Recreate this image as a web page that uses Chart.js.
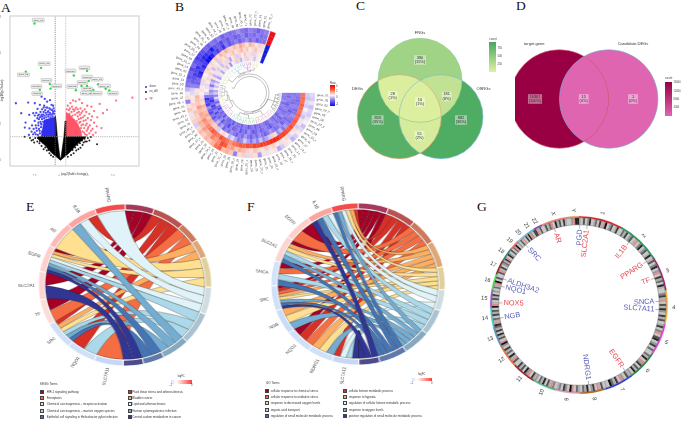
<!DOCTYPE html>
<html>
<head>
<meta charset="utf-8">
<title>Figure</title>
<script src="https://cdn.jsdelivr.net/npm/chart.js@4/dist/chart.umd.min.js"></script>
<style>
html, body { margin: 0; padding: 0; background: #fff; }
#page { position: relative; width: 685px; height: 421px; overflow: hidden; font-family: "Liberation Sans", sans-serif; color: #333; }
#page canvas { position: absolute; }
.t { position: absolute; white-space: nowrap; line-height: 1; }
.letter { font-family: "Liberation Serif", serif; font-size: 13.5px; color: #111; }
.b { position: absolute; }
</style>
</head>
<body>
<div id="page"></div>
<script>
// ---------- A volcano ----------
var xTicksA = [-2.5, 0, 2.5, 5];
var yTicksA = [0, 2, 4, 6, 8];
var volcanoV = [[0.05,0.15],[0.33,1.32],[0.45,2.2],[0.5,2.2],[0.5,1.32],[2.45,1.32],[1.5,0.85],[0.85,0.42],[0,0],[-0.85,0.42],[-1.5,0.85],[-2.15,1.2],[-2.15,1.32],[-0.5,1.32],[-0.5,2.5],[-0.42,2.2],[-0.3,1.32],[-0.05,0.15]];
var downCore = [[-0.5,1.32],[-1.85,1.32],[-1.7,1.8],[-1.55,2.25],[-1,2.35],[-0.5,2.4]];
var upCore = [[0.5,1.32],[2.05,1.32],[1.95,1.65],[1.65,2.05],[1.3,2.3],[0.9,2.55],[0.5,2.7]];
var nsPts = [[-2.4,1.25],[-2.6,1.15],[-2.9,1.25],[-3.4,1.32],[-2.2,1.05],[-2.5,1],[-2,0.95],[-1.8,0.8],[-1.6,0.62],[-1.3,0.55],[-1.05,0.4],[-0.9,0.28],[-2.75,1.1],[-2.15,1.25],[-1.7,1],[2.3,1.2],[2.6,1.25],[2.9,1.3],[2.5,1.05],[2.2,1],[2.1,0.85],[1.9,0.7],[1.7,0.62],[1.5,0.55],[1.25,0.4],[1,0.3],[3.48,0.9],[2.75,1.1],[1.85,0.95],[1.6,0.85],[-1.95,1.08],[-1.45,0.72],[-1.15,0.58],[-0.7,0.2],[0.7,0.2],[1.15,0.58],[1.4,0.72],[2.05,1.1],[2.35,1.05]];
var downPts = [[-4.24,3.19],[-3.73,2.63],[-3.32,2.11],[-3.39,1.83],[-3.07,3.23],[-2.44,3.19],[-2.97,2.54],[-2.59,2.63],[-2.44,2.5],[-2.18,2.87],[-1.96,3.1],[-1.8,3.56],[-1.49,3.43],[-1.27,3.28],[-1,3.36],[-0.85,3.1],[-0.7,3.05],[-1.05,2.9],[-1.35,2.95],[-1.55,3.05],[-1.75,2.85],[-1.9,2.7],[-2.05,2.55],[-1.95,2.4],[-2.2,2.35],[-2.45,2.2],[-2.7,1.95],[-2.95,1.78],[-2.35,1.95],[-2.1,2.1],[-1.8,2.55],[-1.6,2.7],[-1.4,2.65],[-1.2,2.7],[-1,2.65],[-0.8,2.8],[-0.6,2.6],[-0.55,2.35],[-0.75,2.45],[-0.95,2.4],[-1.15,2.45],[-1.35,2.4],[-1.55,2.35],[-1.75,2.3],[-1.9,2.15],[-1.8,2],[-1.65,2.15],[-1.45,2.2],[-1.25,2.25],[-1.05,2.2],[-0.85,2.2],[-0.65,2.2],[-2.25,1.65],[-2.45,1.55],[-2.05,1.75],[-1.85,1.85],[-1.95,1.5],[-2.15,1.42],[-1.75,1.6],[-2.6,1.45],[-3,1.42],[-1.3,2.55],[-1.5,2.5],[-1.7,2.45],[-0.9,2.55],[-0.7,2.7],[-1.1,2.55],[-0.65,2.9],[-1.6,2.95],[-2.3,2.65],[-2.05,2.3],[-1.85,2.45],[-2.15,2.5],[-1.65,2.55],[-1.45,2.8],[-1.25,2.95],[-0.95,2.85],[-0.75,2.6],[-0.58,2.75],[-1.15,2.75],[-1.85,2.05],[-2.3,1.8],[-2.1,1.95],[-1.98,1.65],[-2.55,1.75],[-2.35,1.45],[-2.75,1.6]];
var upPts = [[6.84,3.5],[5.3,3.34],[4.43,2.82],[3.73,3.15],[4.05,2.63],[2.94,3],[3.5,2.4],[3.2,2.75],[2.75,2.6],[2.55,3.05],[2.3,2.85],[2.05,3.2],[1.8,3.4],[1.45,3.3],[1.2,3.35],[0.95,3.2],[0.7,3.05],[0.6,2.85],[0.9,2.9],[1.2,2.85],[1.5,2.95],[1.75,2.7],[2,2.65],[2.3,2.5],[2.6,2.35],[2.9,2.25],[3.2,2.1],[3.45,1.9],[3.05,1.75],[2.8,1.95],[2.5,2.05],[2.2,2.2],[1.95,2.35],[1.65,2.45],[1.4,2.55],[1.15,2.5],[0.85,2.6],[0.65,2.55],[1.25,2.25],[1.55,2.2],[1.8,2.1],[2,1.95],[2.25,1.8],[2.5,1.65],[2.75,1.5],[3.1,1.42],[2.35,1.45],[2.1,1.6],[1.95,1.8],[2.65,1.85],[3.35,1.55],[3.9,1.8],[1.3,2.75],[1.05,2.7],[1.6,2.65],[0.75,2.4],[1.9,2.9],[2.45,2.7],[3,2.45],[1.1,3],[1.85,2.55],[2.15,2.4],[2.1,2.75],[2.4,2.25],[2.15,2],[2.4,1.95],[2.6,1.75],[2.25,1.55],[2.5,1.42],[2.9,1.65],[1.4,2.85],[0.8,2.8],[1.65,2.85],[1.75,2.3],[1.9,2.15]];
var greenPts = [[-2.47,7.65],[-1.84,5.17],[-3.29,4.96],[-1.01,4.27],[-1.96,3.94],[-0.95,4.01],[2.53,5],[1.27,4.74],[2.69,4.44],[2,4.16],[2.53,4.16],[1.46,3.92],[2.85,3.94],[3.13,3.94],[3.58,4.25],[4.3,4],[4.65,3.9],[-2.15,3.75]];
var greenLabelPts = [[-2.11,7.84],[-1.54,5.4],[-3.52,4.78],[-1.33,4.47],[-2.28,4.12],[-0.38,4.16],[2.28,5.17],[0.95,5],[2.53,4.66],[2.09,4.35],[2.53,4],[1.11,4.12],[2.47,3.75],[3.47,3.75],[3.48,4.53],[4.18,4.16],[5,3.75],[-2.22,3.73]];
var greenLabels = ['gene_01','gene_02','gene_03','gene04','gene05','gene06','gene07','gene08','gene09','gene10','gene11','gene12','gene_13','gene14','gene_15','gene_16','gene17','gene18'];

// ---------- B circular heatmap ----------
var ring0 = [-.2,-.3,-.1,-.4,-.2,-.3,-.1,0,-.4,-.2,.1,-.3,-.5,.1,.2,-.3,-.6,.2,.1, -.1,.2,-.7,.3,.4,-.2,.5,.3,-.9,.6,1,.8,1.8,1.6,1,.7,.9,.5,.8, .4,-.3,.5,.3,-.1,.6,.2,-.9,.3,.1,-.5,-1,-1.1,-1.3,-1.2,-1.4,-1.1,-1.3,-1.5, -1.4,-1.3,-1.1,-1.2,-1,-1.1,-.9,-1.2,-1,-1.1,-1,-.8,-1,-1.1,-.9,-1,-1.2,-1,-.9];
var ring1 = [-.3,-.4,-.2,-.3,0,-.2,-.4,-.1,.2,-.3,.3,.1,-.2,.4,.2,.3,.1,.5,.3, .6,.2,.4,.7,.3,.5,.8,1,.6,1.2,1.1,1.9,2.1,1.4,1.2,1.5,1,.9,1.2, .8,1,.6,.5,.7,.3,.5,.2,.1,-.2,-.3,-.9,-1.2,-1.3,-1.5,-1.4,-1.6,-1.3,-1.5, -1.7,-1.6,-1.4,-1.8,-1.3,-1.2,-1.4,-1.1,-1.3,-1,-1.2,-1.1,-.9,-1.2,-1,-1.1,-.9,-1.1,-1];
var ring2 = [1.6,1.7,1.6,1.8,1.7,1.6,1.8,1.7,1.9,1.8,2,1.9,2.1,2.3,2.2,2.6,2.8,2.6,2.4, 2.2,2.3,2.1,2.2,1.9,2,1.8,1.9,1.7,1.6,1.3,1.6,1.8,2,1.5,1.7,1.9,1.6,1.4, 1.2,1.4,1,1.1,.8,1.2,.6,.7,.9,.3,.2,-.9,-1.2,-1.1,-1.6,-1.8,-1.4,-1.7,-1.5, -1.9,-2,-1.8,-1.3,-1.5,-1.2,-1.6,-1,-1.3,-1.1,-.9,-1.2,-1,-.8,-1.1,-.9,-1.2,-1,-1];
var ring3 = [-.9,-1,-1.1,-1,-.9,-1.1,-1,-.8,-1,-1.1,-.9,-.7,-1,-.5,-.8,.3,.5,-.3,-.6, -.8,-.4,-.9,-.6,-1,-.7,-.3,-.8,-1,-.6,-.2,-.5,.1,.4,.2,-.3,.6,.5,.8, 1,.7,1.1,.8,.6,.9,.3,.5,.2,0,.3,.1,-.2,.4,.2,0,.3,.5,.2, .4,.2,.7,.3,.9,.5,1,.6,.4,.8,.5,1.1,.7,.3,.9,.6,.2,.5,.3];
var ring4 = [-1,-.9,-1,-1.1,-.9,-1,-1.2,-1,-.9,-1.1,-1,-1.2,-.8,-1,-1.1,-.9,-.7,-1,-1.2, -1,-.8,-1.1,-.9,-1.2,-1,-.7,-1.1,-.9,-1.2,-1,-.8,-1.1,-.9,-1.2,-.6,-1,-.5,-.9, -1.3,-1,-1.4,-1.2,-.8,-1.5,-1.3,-1.6,-1,-.3,0,.3,-.2,.1,.4,-.1,.5,.2,-.4, .3,.1,-.3,.5,.2,.6,-.1,.4,.7,.2,.5,.8,.3,.6,.1,.4,.7,.2,.3];
var ring5 = [-1,-1.1,-.9,-1,-1.2,-1,-.9,-1.1,-1,-.8,-1.2,-1,-1.1,-.9,-1,-1.3,-1.1,-.9,-1, -1.2,-.9,-1.1,-1.3,-1,-.8,-1.2,-1,-1.3,-.9,-1.1,-1.2,-.9,-1.4,-1.1,-1,-1.3,-.8,-1.2, -1,-1.4,-.9,-1.3,-1.5,-1.1,-1.6,-1.3,-1,-.6,-.8,-.3,-1,-.4,-.7,.2,-.5,-.1,.3, -.3,.2,-.4,.3,-.2,.4,-.6,.1,.5,-.3,.4,.1,.6,-.1,.3,.5,-.2,.2,0];
var ring6 = [-.9,-1,-1,-.8,-1.1,-.9,-1,-1.1,-.9,-1,-1.2,-.9,-1.1,-1,-.8,-1.1,-1.2,-1,-.9, -1.1,-1,-1.2,-.9,-1.1,-1.3,-1,-.9,-1.2,-1,-1.1,-.9,-1.3,-1,-1.2,-1.1,-.8,-1.3,-1, -1.2,-.9,-1.4,-1.1,-.6,-1.2,-.7,-.2,-.9,-.3,-.6,.1,-.4,.2,-.5,0,-.7,-.2,.1, -.6,-.1,.3,-.4,.2,-.8,0,.3,-.3,.4,-.5,.1,-.2,.5,-.1,.2,-.4,.1,0];
var heatRings = [ring0, ring1, ring2, ring3, ring4, ring5, ring6];
var groupColors = ['#e8141c', '#e8141c', '#e8141c', '#1020d8', '#1020d8', '#1020d8', '#1020d8'];
var heatStops = [[-2,[8,8,235]],[-1,[135,118,235]],[-0.3,[212,204,248]],[0,[248,240,244]],[1,[251,175,152]],[2,[246,80,52]],[3,[240,26,16]],[4,[224,0,0]]];
// clusters of the dendrogram: first gene, last gene, colour
var treeClusters = [[0,9,'#444444'],[10,20,'#d98ca0'],[21,27,'#8ccf8c'],[28,33,'#66c2b0'],[34,40,'#c080c0'],[41,44,'#e6d36a'],[45,51,'#888888'],[52,59,'#b5d98a'],[60,66,'#7fcfd0'],[67,71,'#b070c0'],[72,75,'#e0d060']];
// node a, node b, radius of the join
var treeMerges = [[9,10,23],[8,11,21.5],[7,12,20.5],[5,6,23],[4,14,21.5],[13,15,19],[2,3,22],[1,17,20.5],[0,18,18.5],[16,19,16.5]];

// ---------- C and D venn ----------
var cNames = ['FRGs', 'DEGs', 'OSRGs'];
var cCx = [75, 54.3, 96];
var cCy = [55.3, 91.7, 91.7];
var cCounts = [380, 833, 882, 28, 181, 55, 16];
var cPercents = ['15%', '35%', '36%', '1%', '8%', '2%', '1%'];
var cLabelX = [75, 32.7, 116, 47.7, 101.7, 74.5, 75];
var cLabelY = [35, 95, 95, 70.7, 71.5, 110.7, 77];
var dNames = ['target.gene', 'Candidate.DEGs'];
var dCx = [44.3, 93.7];
var dCy = [64, 64];
var dCounts = [16361, 15, 1];
var dPercents = ['100%', '0%', '0%'];
var dLabelX = [20, 68.7, 118];
var dLabelY = [64, 64, 64];

// ---------- E and F chord ----------
var termColors = ['#a50026','#d73027','#f46d43','#fdae61','#fee090','#e0f3f8','#abd9e9','#74add1','#4575b4','#313695'];
var termArcColors = ['#a33a5a','#b9534f','#cc7a5c','#dfa777','#e0d09c','#cfdce0','#a9c3d2','#86a9c0','#5f79a9','#4d4b8c'];
var eTerms = ['HIF-1 signaling pathway','Fluid shear stress and atherosclerosis','Ferroptosis','Bladder cancer','Chemical carcinogenesis - receptor activation','Lipid and atherosclerosis','Chemical carcinogenesis - reactive oxygen species','Human cytomegalovirus infection','Epithelial cell signaling in Helicobacter pylori infection','Central carbon metabolism in cancer'];
var eTermSizes = [19.6,21.4,14.5,13.3,21.7,19.5,22.7,18.7,14.1,13.5];
var eGenes = ['SLC7A11','NQO1','SRC','TF','SLC2A1','EGFR','AR','IL1B','PPARG'];
var eGeneSizes = [19.4,19.8,19.7,18.3,20,19.5,19,20.6,20.2];
var eGeneColors = ['#c6d8f6','#cfe0f8','#cfe0f8','#fbdcd8','#fcd5d2','#fdd0cc','#fdb9b5','#fba4a0','#f44b4b'];
var eLinks = [['EGFR',0],['SLC2A1',0],['TF',0],['IL1B',1],['SRC',1],['NQO1',1],['TF',2],['SLC7A11',2],['EGFR',3],['SRC',3],['AR',4],['EGFR',4],['SRC',4],['PPARG',5],['IL1B',5],['EGFR',5],['NQO1',6],['SRC',6],['EGFR',6],['IL1B',7],['EGFR',7],['SRC',7],['EGFR',8],['SRC',8],['SLC2A1',9],['EGFR',9]];
var fTerms = ['cellular response to chemical stress','cellular ketone metabolic process','cellular response to oxidative stress','response to hypoxia','response to decreased oxygen levels','regulation of cellular ketone metabolic process','organic acid transport','response to oxygen levels','regulation of small molecule metabolic process','positive regulation of small molecule metabolic process'];
var fTermSizes = [20.4,19.6,18.4,19,16.6,15,18.5,18.5,19,14];
var fGenes = ['SLC7A11','NDRG1','NQO1','NGB','SRC','SNCA','SLC2A1','EGFR','IL1B','PPARG'];
var fGeneSizes = [18,17,18,18,18,18,19,19,17,18];
var fGeneColors = ['#c6d8f6','#cfe0f8','#cfe0f8','#c9dcf8','#cfe0f8','#d3e3f9','#fcd5d2','#fdd0cc','#fba4a0','#f44b4b'];
var fLinks = [['NQO1',0],['SRC',0],['SNCA',0],['SLC2A1',0],['EGFR',0],['SLC7A11',1],['NQO1',1],['SRC',1],['PPARG',1],['NQO1',2],['SRC',2],['SNCA',2],['EGFR',2],['NDRG1',3],['NGB',3],['SRC',3],['SLC2A1',3],['PPARG',3],['NDRG1',4],['NGB',4],['SRC',4],['SLC2A1',4],['PPARG',4],['SLC7A11',5],['IL1B',5],['PPARG',5],['SLC7A11',6],['SNCA',6],['SLC2A1',6],['IL1B',6],['NDRG1',7],['NGB',7],['SRC',7],['SLC2A1',7],['PPARG',7],['SNCA',8],['SRC',8],['SLC2A1',8],['IL1B',8],['PPARG',8],['SLC7A11',9],['SRC',9],['IL1B',9]];

// ---------- G circos ----------
var chrNames = ['1','2','3','4','5','6','7','8','9','10','11','12','13','14','15','16','17','18','19','20','21','22','X','Y'];
var chrSizes = [248,242,198,190,181,170,159,145,138,133,135,133,114,107,101,90,83,80,58,64,46,50,156,57];
var chrColors = ['#e01b24','#1f9e55','#8e2a6e','#f5b435','#e93ae0','#1d8a3a','#2230e0','#b5651d','#e8a0c8','#4cc38a','#a01c28','#f0703c','#5a8fc8','#40d8c8','#a24ce0','#4ce04c','#8e1c1c','#1f8a80','#f07060','#7ec8e8','#40c8d8','#8a3cc0','#f08878','#d89a50'];
var chrBands = [
 [2,1,6,1,3,8,1,2,5,1,7,2,-1,9,1,3,6,1,2,7,1],[1,5,2,7,1,3,6,1,2,-1,1,4,8,1,3,6,1,2,8,1],[2,6,1,4,8,1,3,-1,1,7,2,5,1,8,2,1],[1,4,7,2,-1,1,6,2,8,3,1,7,2,6,1],[2,7,1,4,-1,1,6,8,1,3,7,1,5,1],
 [1,5,2,8,1,-1,3,7,1,6,2,8,1,3],[2,6,1,3,-1,1,7,2,5,9,1,2],[1,6,2,-1,1,7,3,1,8,2,5,1],[2,5,1,-1,9,1,3,7,1,4,2],[1,4,-1,2,6,1,8,2,5,1,3],[2,7,1,-1,3,8,1,6,2,7,1],
 [1,6,-1,2,8,1,5,2,7,1,3],[9,-1,1,6,2,8,1,7,2,5],[8,-1,2,5,1,7,2,6,1],[9,-1,2,1,6,2,7,1,3],[1,5,2,-1,9,1,6,1],[1,6,-1,2,7,1,3,5],[2,7,-1,1,8,3,1,6],[1,5,-1,9,1,3],[1,6,2,-1,1,7,2],[8,-1,3,1,7],[7,-1,2,6,1],
 [1,6,2,5,-1,1,8,2,6,1,7,2,1],[1,3,-1,8,8]
];
var gGenes = ['PGD','SLC2A1','AR','IL1B','PPARG','TF','SNCA','SLC7A11','EGFR','NDRG1','NGB','NOX5','NQO1','ALDH3A2','SRC'];
var gAngles = [0.5,5.8,342.2,38.5,57.3,70.5,87.4,93.3,145,173,260.6,271.5,283.5,289,318.4];
var gColors = ['#5a5fb5','#e8474f','#e8474f','#e8474f','#e8474f','#e8474f','#5a5fb5','#5a5fb5','#e8474f','#5a5fb5','#5a5fb5','#e8474f','#5a5fb5','#5a5fb5','#5a5fb5'];

// ---------- helpers ----------
Chart.defaults.animation = false;
Chart.defaults.responsive = false;
Chart.defaults.events = [];
Chart.defaults.layout.autoPadding = false;
Chart.defaults.plugins.legend.display = false;
Chart.defaults.plugins.tooltip.enabled = false;
Chart.defaults.font.family = '"Liberation Sans", sans-serif';

var page = document.getElementById('page');

function addCanvas(left, top, w, h, scaleX) {
    var holder = document.createElement('div');
    holder.style.cssText = 'position:absolute;left:' + left + 'px;top:' + top + 'px;width:' + w + 'px;height:' + h + 'px;';
    if (scaleX) holder.style.transform = 'scaleX(' + scaleX + ')';
    var c = document.createElement('canvas');
    c.width = w;
    c.height = h;
    holder.appendChild(c);
    page.appendChild(holder);
    return c;
}

// anchor: 0 left, 0.5 centre, 1 right
function put(x, y, str, size, color, anchor, cls) {
    var d = document.createElement('div');
    d.className = 't ' + (cls || '');
    d.textContent = str;
    d.style.left = x + 'px';
    d.style.top = y + 'px';
    if (size) d.style.fontSize = size + 'px';
    if (color) d.style.color = color;
    d.style.transform = 'translate(' + (-(anchor || 0) * 100) + '%,-50%)';
    page.appendChild(d);
}

function block(x, y, w, h, css) {
    var d = document.createElement('div');
    d.className = 'b';
    d.style.cssText = 'left:' + x + 'px;top:' + y + 'px;width:' + w + 'px;height:' + h + 'px;' + css;
    page.appendChild(d);
}

function mix(a, b, f) {
    return 'rgb(' + Math.round(a[0] + (b[0] - a[0]) * f) + ',' + Math.round(a[1] + (b[1] - a[1]) * f) + ',' + Math.round(a[2] + (b[2] - a[2]) * f) + ')';
}

function heatColor(v) {
    for (var i = 1; i < heatStops.length; i++) {
        if (v <= heatStops[i][0]) {
            var lo = heatStops[i - 1], hi = heatStops[i];
            return mix(lo[1], hi[1], Math.max(0, (v - lo[0]) / (hi[0] - lo[0])));
        }
    }
    return 'rgb(224,0,0)';
}

// text along a radius, readable on both halves, starting or ending at r
function radialText(ctx, cx, cy, r, angle, text, inward) {
    var left = Math.cos(angle) < 0;
    ctx.save();
    ctx.translate(cx + r * Math.cos(angle), cy + r * Math.sin(angle));
    ctx.rotate(left ? angle + Math.PI : angle);
    ctx.textBaseline = 'middle';
    ctx.textAlign = inward ? (left ? 'left' : 'right') : (left ? 'right' : 'left');
    ctx.fillText(text, 0, 0);
    ctx.restore();
}

['A', 'B', 'C', 'D', 'E', 'F', 'G'].forEach(function (l, i) {
    var xs = [1, 175, 356, 516, 26, 247, 477];
    var ys = [8, 7, 6, 6, 207, 207, 207];
    put(xs[i], ys[i], l, 0, 0, 0, 'letter');
});

// ---------- panel A ----------
function toXY(p) { return { x: p[0], y: p[1] }; }

var volcanoDecor = {
    id: 'volcanoDecor',
    afterDatasetsDraw: function (chart) {
        var ctx = chart.ctx, a = chart.chartArea, sx = chart.scales.x, sy = chart.scales.y;
        ctx.save();
        ctx.strokeStyle = '#d4d4d4';
        ctx.lineWidth = 1.2;
        ctx.strokeRect(a.left, a.top, a.right - a.left, a.bottom - a.top);
        ctx.font = '2.4px "Liberation Sans"';
        ctx.textAlign = 'center';
        ctx.textBaseline = 'middle';
        greenLabelPts.forEach(function (p, i) {
            var x = sx.getPixelForValue(p[0]), y = sy.getPixelForValue(p[1]);
            var w = ctx.measureText(greenLabels[i]).width + 2.6;
            ctx.fillStyle = 'rgba(236,236,236,0.95)';
            ctx.strokeStyle = '#999';
            ctx.lineWidth = 0.4;
            ctx.beginPath();
            ctx.roundRect(x - w / 2, y - 1.8, w, 3.6, 0.6);
            ctx.fill();
            ctx.stroke();
            ctx.fillStyle = '#444';
            ctx.fillText(greenLabels[i], x, y);
        });
        ctx.restore();
    }
};

new Chart(addCanvas(0, 0, 175, 176), {
    type: 'scatter',
    data: {
        datasets: [
            { data: [[-0.5, -1], [-0.5, 9]].map(toXY), showLine: true, borderColor: '#666', borderWidth: 0.7, borderDash: [1.2, 1], pointRadius: 0 },
            { data: [[0.5, -1], [0.5, 9]].map(toXY), showLine: true, borderColor: '#aaa', borderWidth: 0.7, borderDash: [1.2, 1], pointRadius: 0 },
            { data: [[-9, 1.32], [9, 1.32]].map(toXY), showLine: true, borderColor: '#999', borderWidth: 0.7, borderDash: [1.2, 1], pointRadius: 0 },
            { data: volcanoV.map(toXY), showLine: true, fill: 'shape', backgroundColor: '#000', borderColor: '#000', borderWidth: 0.6, pointRadius: 0 },
            { data: downCore.map(toXY), showLine: true, fill: 'shape', backgroundColor: '#2f2ff0', borderColor: '#2f2ff0', borderWidth: 0.4, pointRadius: 0 },
            { data: upCore.map(toXY), showLine: true, fill: 'shape', backgroundColor: '#ff5567', borderColor: '#ff5567', borderWidth: 0.4, pointRadius: 0 },
            { data: nsPts.map(toXY), pointRadius: 1, pointBackgroundColor: '#222', pointBorderWidth: 0 },
            { data: downPts.map(toXY), pointRadius: 1.15, pointBackgroundColor: '#4a4af0', pointBorderWidth: 0 },
            { data: upPts.map(toXY), pointRadius: 1.15, pointBackgroundColor: '#ff7080', pointBorderWidth: 0 },
            { data: greenPts.map(toXY), pointRadius: 1.2, pointBackgroundColor: '#22e040', pointBorderWidth: 0 }
        ]
    },
    options: {
        layout: { padding: { top: 16, right: 36, left: 0, bottom: 0 } },
        scales: {
            x: {
                min: -4.8, max: 7.47,
                afterFit: function (s) { s.height = 10; },
                afterBuildTicks: function (s) { s.ticks = xTicksA.map(function (v) { return { value: v }; }); },
                grid: { display: false },
                border: { display: false },
                ticks: { font: { size: 2.8 }, color: '#777', maxRotation: 0, autoSkip: false, padding: 1, callback: function (v) { return v.toFixed(1); } },
                title: { display: true, text: 'log2(fold change)', font: { size: 3.4 }, color: '#444', padding: { top: 1, bottom: 0 } }
            },
            y: {
                min: -0.32, max: 8.07,
                afterFit: function (s) { s.width = 10; },
                afterBuildTicks: function (s) { s.ticks = yTicksA.map(function (v) { return { value: v }; }); },
                grid: { display: false },
                border: { display: false },
                ticks: { font: { size: 2.8 }, color: '#777', autoSkip: false, padding: 1 },
                title: { display: true, text: '-log10(p-value)', font: { size: 3.4 }, color: '#444', padding: 0 }
            }
        }
    },
    plugins: [volcanoDecor]
});
[['down', '#3a3af0', 87], ['no_diff', '#222', 92.3], ['up', '#ff6070', 98.7]].forEach(function (r) {
    block(145, r[2] - 0.9, 1.8, 1.8, 'background:' + r[1] + ';border-radius:50%;');
    put(149.5, r[2], r[0], 2.7, '#444');
});

// ---------- panel B ----------
var heatCount = ring0.length;
var spacerWeight = 0.3, annotWeight = 1.27, gapWeight = 17.64;
var heatWeights = ring0.map(function () { return 1; }).concat([spacerWeight, annotWeight, gapWeight]);
var heatDatasets = heatRings.map(function (ring, r) {
    var colors = ring.map(heatColor).concat(['rgba(0,0,0,0)', groupColors[r], 'rgba(0,0,0,0)']);
    return { data: heatWeights, backgroundColor: colors, borderColor: colors, borderWidth: 0.3 };
});

var heatDecor = {
    id: 'heatDecor',
    afterDatasetsDraw: function (chart) {
        var ctx = chart.ctx;
        var arcs = chart.getDatasetMeta(0).data;
        var cx = arcs[0].x, cy = arcs[0].y;
        function mid(i) { return (arcs[i].startAngle + arcs[i].endAngle) / 2; }
        ctx.save();
        // gene names
        ctx.font = '3px "Liberation Sans"';
        ctx.fillStyle = '#444';
        for (var i = 0; i < heatCount; i++) {
            var n = 'gene_' + (i < 9 ? '0' : '') + (i + 1) + (i % 3 === 0 ? '_x' : '');
            radialText(ctx, cx, cy, 67, mid(i), n);
        }
        // dendrogram
        ctx.lineWidth = 0.35;
        var nodes = treeClusters.map(function (c) {
            ctx.strokeStyle = c[2];
            var pairs = [];
            for (var j = c[0]; j <= c[1]; j += 2) {
                var a0 = mid(j), a1 = mid(Math.min(j + 1, c[1]));
                ctx.beginPath();
                ctx.moveTo(cx + 31 * Math.cos(a0), cy + 31 * Math.sin(a0));
                ctx.lineTo(cx + 28 * Math.cos(a0), cy + 28 * Math.sin(a0));
                ctx.arc(cx, cy, 28, a0, a1);
                ctx.lineTo(cx + 31 * Math.cos(a1), cy + 31 * Math.sin(a1));
                ctx.stroke();
                var am = (a0 + a1) / 2;
                pairs.push(am);
                ctx.beginPath();
                ctx.moveTo(cx + 28 * Math.cos(am), cy + 28 * Math.sin(am));
                ctx.lineTo(cx + 25.5 * Math.cos(am), cy + 25.5 * Math.sin(am));
                ctx.stroke();
            }
            ctx.beginPath();
            ctx.arc(cx, cy, 25.5, pairs[0], pairs[pairs.length - 1]);
            ctx.stroke();
            return { angle: (pairs[0] + pairs[pairs.length - 1]) / 2, r: 25.5 };
        });
        ctx.strokeStyle = '#666';
        ctx.lineWidth = 0.4;
        treeMerges.forEach(function (m) {
            var a = nodes[m[0]], b = nodes[m[1]], r = m[2];
            ctx.beginPath();
            ctx.moveTo(cx + a.r * Math.cos(a.angle), cy + a.r * Math.sin(a.angle));
            ctx.lineTo(cx + r * Math.cos(a.angle), cy + r * Math.sin(a.angle));
            ctx.arc(cx, cy, r, a.angle, b.angle);
            ctx.lineTo(cx + b.r * Math.cos(b.angle), cy + b.r * Math.sin(b.angle));
            ctx.stroke();
            nodes.push({ angle: (a.angle + b.angle) / 2, r: r });
        });
        ctx.restore();
    }
};

new Chart(addCanvas(155, -2, 190, 190), {
    type: 'doughnut',
    data: { datasets: heatDatasets },
    options: { rotation: 90, radius: 65, cutout: '49.2%', layout: { padding: 0 } },
    plugins: [heatDecor]
});
put(330, 82.5, 'Row', 2.8, '#333');
block(330, 85, 4.6, 21, 'background:linear-gradient(to bottom,#e80000,#f6563a 22%,#fbb5a0 36%,#f8f2f6 50%,#8776eb 72%,#0808eb);');
[['4', 86.5], ['2', 92], ['0', 98], ['-2', 104.5]].forEach(function (r) { put(336, r[1], r[0], 2.6, '#444'); });

// ---------- panels C and D ----------
function rampColor(v, maxV, lo, hi) { return mix(lo, hi, Math.min(1, v / maxV)); }

function vennPlugin(cfg) {
    return {
        id: 'venn',
        afterDatasetsDraw: function (chart) {
            var ctx = chart.ctx;
            var circ = chart.data.datasets.map(function (d, i) {
                var el = chart.getDatasetMeta(i).data[0];
                return { x: el.x, y: el.y, r: d.data[0].r };
            });
            ctx.save();
            cfg.overlaps.forEach(function (o) {
                ctx.save();
                o.inside.forEach(function (k) {
                    ctx.beginPath();
                    ctx.arc(circ[k].x, circ[k].y, circ[k].r, 0, Math.PI * 2);
                    ctx.clip();
                });
                ctx.fillStyle = o.color;
                ctx.fillRect(0, 0, chart.width, chart.height);
                ctx.restore();
            });
            circ.forEach(function (c, i) {
                ctx.strokeStyle = cfg.outline[i];
                ctx.lineWidth = 0.6;
                ctx.beginPath();
                ctx.arc(c.x, c.y, c.r, 0, Math.PI * 2);
                ctx.stroke();
            });
            ctx.font = '3.9px "Liberation Sans"';
            ctx.textAlign = 'center';
            ctx.textBaseline = 'middle';
            cfg.counts.forEach(function (n, i) {
                var x = chart.scales.x.getPixelForValue(cfg.lx[i]);
                var y = chart.scales.y.getPixelForValue(cfg.ly[i]);
                var top = String(n), bot = '(' + cfg.pct[i] + ')';
                var w = Math.max(ctx.measureText(top).width, ctx.measureText(bot).width) + 1.6;
                ctx.fillStyle = 'rgba(255,255,255,0.42)';
                ctx.fillRect(x - w / 2, y - 4.8, w, 9.6);
                ctx.fillStyle = '#333';
                ctx.fillText(top, x, y - 2.1);
                ctx.fillText(bot, x, y + 2.3);
            });
            ctx.restore();
        }
    };
}

function vennOptions(w, h) {
    return {
        layout: { padding: 0 },
        clip: false,
        scales: {
            x: { display: false, min: 0, max: w },
            y: { display: false, min: 0, max: h, reverse: true }
        }
    };
}

var cLow = [223, 240, 160], cHigh = [71, 168, 95];
function cColor(v) { return rampColor(v, 933, cLow, cHigh); }
var cRadius = 42;
new Chart(addCanvas(345, 25, 150, 140), {
    type: 'bubble',
    data: {
        datasets: [
            { data: [{ x: cCx[0], y: cCy[0], r: cRadius }], backgroundColor: cColor(cCounts[0]), borderWidth: 0 },
            { data: [{ x: cCx[1], y: cCy[1], r: cRadius }], backgroundColor: cColor(cCounts[1]), borderWidth: 0 },
            { data: [{ x: cCx[2], y: cCy[2], r: cRadius }], backgroundColor: cColor(cCounts[2]), borderWidth: 0 }
        ]
    },
    options: vennOptions(150, 140),
    plugins: [vennPlugin({
        overlaps: [
            { inside: [0, 1], color: cColor(cCounts[3]) },
            { inside: [0, 2], color: cColor(cCounts[4]) },
            { inside: [1, 2], color: cColor(cCounts[5]) },
            { inside: [0, 1, 2], color: cColor(cCounts[6]) }
        ],
        outline: ['#84c98b', '#e0a070', '#78b8d8'],
        counts: cCounts, pct: cPercents, lx: cLabelX, ly: cLabelY
    })]
});
put(420, 33, cNames[0], 4.1, '#333', 0.5);
put(357.5, 89, cNames[1], 4.1, '#333', 0.5);
put(483.5, 89, cNames[2], 4.1, '#333', 0.5);
put(489.3, 38.5, 'count', 3, '#444');
block(489.3, 42, 6.6, 30, 'background:linear-gradient(to bottom,#47a85f,#e0f0a0);');
[['750', 47.7], ['500', 56], ['250', 64.3]].forEach(function (r) { put(497.5, r[1], r[0], 2.8, '#444'); });

var dLow = [223, 101, 176], dHigh = [152, 0, 67];
function dColor(v) { return rampColor(v, 16361, dLow, dHigh); }
new Chart(addCanvas(515, 35, 150, 128), {
    type: 'bubble',
    data: {
        datasets: [
            { data: [{ x: dCx[0], y: dCy[0], r: 49.3 }], backgroundColor: dColor(dCounts[0]), borderWidth: 0 },
            { data: [{ x: dCx[1], y: dCy[1], r: 49.3 }], backgroundColor: dColor(dCounts[2]), borderWidth: 0 }
        ]
    },
    options: vennOptions(150, 128),
    plugins: [vennPlugin({
        overlaps: [{ inside: [0, 1], color: dColor(dCounts[1]) }],
        outline: ['#d86a70', '#6fb3d6'],
        counts: dCounts, pct: dPercents, lx: dLabelX, ly: dLabelY
    })]
});
put(534.3, 44, dNames[0], 4.1, '#333', 0.5);
put(633, 44, dNames[1], 4.1, '#333', 0.5);
put(665, 78, 'count', 3, '#444');
block(665, 82, 7, 34, 'background:linear-gradient(to bottom,#980043,#df65b0);');
[['16000', 83.3], ['12000', 91.7], ['8000', 100], ['4000', 108]].forEach(function (r) { put(673.5, r[1], r[0], 2.6, '#444'); });

// ---------- panels E and F ----------
function chordPlugin(termCount, genes, links, labelR) {
    return {
        id: 'chord',
        afterDatasetsDraw: function (chart) {
            var ctx = chart.ctx;
            var arcs = chart.getDatasetMeta(0).data;
            var cx = arcs[0].x, cy = arcs[0].y;
            var R = arcs[0].innerRadius - 0.8;
            function geneIdx(l) { return genes.indexOf(l[0]); }
            function slot(arc, i, n) {
                var s = arc.endAngle - arc.startAngle;
                return [arc.startAngle + s * i / n, arc.startAngle + s * (i + 1) / n];
            }
            // bend of a ribbon side: a quarter of the way from the centre to the chord middle
            function bendTo(a0, a1) {
                var px = R * Math.cos(a1), py = R * Math.sin(a1);
                var qx = R * Math.cos(a0), qy = R * Math.sin(a0);
                ctx.quadraticCurveTo(cx + (px + qx) / 8, cy + (py + qy) / 8, cx + px, cy + py);
            }
            var spans = links.map(function (l) {
                var onGene = links.filter(function (o) { return o[0] === l[0]; }).map(function (o) { return o[1]; }).sort(function (a, b) { return b - a; });
                var onTerm = links.filter(function (o) { return o[1] === l[1]; }).map(geneIdx).sort(function (a, b) { return b - a; });
                return {
                    term: l[1],
                    g: slot(arcs[termCount + geneIdx(l)], onGene.indexOf(l[1]), onGene.length),
                    t: slot(arcs[l[1]], onTerm.indexOf(geneIdx(l)), onTerm.length)
                };
            });
            ctx.save();
            ctx.strokeStyle = 'rgba(30,30,30,0.8)';
            ctx.lineWidth = 0.35;
            spans.forEach(function (s) {
                ctx.beginPath();
                ctx.arc(cx, cy, R, s.g[0], s.g[1]);
                bendTo(s.g[1], s.t[0]);
                ctx.arc(cx, cy, R, s.t[0], s.t[1]);
                bendTo(s.t[1], s.g[0]);
                ctx.closePath();
                ctx.fillStyle = termColors[s.term];
                ctx.fill();
                ctx.stroke();
            });
            ctx.font = '4.3px "Liberation Sans"';
            ctx.fillStyle = '#444';
            genes.forEach(function (g, i) {
                var a = arcs[termCount + i];
                radialText(ctx, cx, cy, labelR, (a.startAngle + a.endAngle) / 2, g);
            });
            ctx.restore();
        }
    };
}

function chord(cx, cy, sx, termSizes, geneSizes, geneColors, genes, links) {
    new Chart(addCanvas(cx - 100, cy - 100, 200, 200, sx), {
        type: 'doughnut',
        data: {
            datasets: [{
                data: termSizes.concat(geneSizes),
                backgroundColor: termArcColors.concat(geneColors),
                borderColor: '#fff',
                borderWidth: 0.8
            }]
        },
        options: { radius: 81, cutout: '92.8%', rotation: 0, layout: { padding: 0 } },
        plugins: [chordPlugin(termSizes.length, genes, links, 84)]
    });
}
chord(125, 285, 1.07, eTermSizes, eGeneSizes, eGeneColors, eGenes, eLinks);
chord(357.5, 283.7, 1.076, fTermSizes, fGeneSizes, fGeneColors, fGenes, fLinks);

function chordLegend(title, terms, titleX, titleY, sw1, tx1, sw2, tx2, rowY, rowH, barX, barY, barW) {
    put(titleX, titleY, title, 3, '#333');
    terms.forEach(function (name, i) {
        var col = i % 2, row = (i - col) / 2;
        var y = rowY + row * rowH;
        block(col ? sw2 : sw1, y - 2, 4, 4, 'box-sizing:border-box;border:0.3px solid #444;background:' + termColors[i] + ';');
        put(col ? tx2 : tx1, y, name, 3, '#333');
    });
    put(barX + barW / 2, barY - 3, 'logFC', 2.6, '#333', 0.5);
    block(barX, barY, barW, 3.6, 'background:linear-gradient(to right,#cfe0ff,#ffffff 25%,#ff3b3b);');
    put(barX, barY + 6, '-1', 2.6, '#333', 0.5);
    put(barX + barW, barY + 6, '3', 2.6, '#333', 0.5);
}
chordLegend('KEGG Terms', eTerms, 40, 384, 40, 46.7, 127.5, 132.3, 391.7, 6.33, 170.7, 380, 21);
chordLegend('GO Terms', fTerms, 266, 383, 265, 270.7, 343.3, 348.7, 390.7, 6.33, 411.7, 377.7, 20);

// ---------- panel G ----------
var bandSizes = [], bandColors = [];
chrBands.forEach(function (bands, c) {
    bands.forEach(function (level) {
        bandSizes.push(chrSizes[c] / bands.length);
        bandColors.push(level < 0 ? '#e08a8a' : mix([222, 222, 222], [15, 15, 15], level / 9));
    });
});
function degToRad(d) { return (d - 90) * Math.PI / 180; }

var circosDecor = {
    id: 'circosDecor',
    afterDatasetsDraw: function (chart) {
        var ctx = chart.ctx;
        var chrArcs = chart.getDatasetMeta(0).data;
        var cx = chrArcs[0].x, cy = chrArcs[0].y;
        ctx.save();
        ctx.strokeStyle = '#666';
        ctx.lineWidth = 0.4;
        [80.3, 87.3].forEach(function (r) {
            ctx.beginPath();
            ctx.arc(cx, cy, r, 0, Math.PI * 2);
            ctx.stroke();
        });
        ctx.font = '5.6px "Liberation Sans"';
        ctx.fillStyle = '#333';
        chrArcs.forEach(function (a, i) {
            var m = (a.startAngle + a.endAngle) / 2;
            ctx.save();
            ctx.translate(cx + 95 * Math.cos(m), cy + 95 * Math.sin(m));
            ctx.rotate(Math.cos(m) < 0 ? m + Math.PI : m);
            ctx.textAlign = 'center';
            ctx.textBaseline = 'middle';
            ctx.fillText(chrNames[i], 0, 0);
            ctx.restore();
        });
        ctx.font = '7.4px "Liberation Sans"';
        gGenes.forEach(function (g, i) {
            var a = degToRad(gAngles[i]);
            ctx.strokeStyle = '#444';
            ctx.lineWidth = 0.4;
            ctx.beginPath();
            ctx.moveTo(cx + 80.3 * Math.cos(a), cy + 80.3 * Math.sin(a));
            ctx.lineTo(cx + 76.5 * Math.cos(a), cy + 76.5 * Math.sin(a));
            ctx.stroke();
            ctx.fillStyle = gColors[i];
            radialText(ctx, cx, cy, 75.5, a, g, true);
        });
        ctx.restore();
    }
};

new Chart(addCanvas(578.7 - 106, 305.3 - 106, 212, 212), {
    type: 'doughnut',
    data: {
        datasets: [
            { data: chrSizes, backgroundColor: chrColors, borderColor: chrColors, borderWidth: 0.2, weight: 1.4 },
            { data: bandSizes, backgroundColor: bandColors, borderColor: bandColors, borderWidth: 0.2, weight: 7.1 }
        ]
    },
    options: { radius: 88.8, cutout: '90.43%', rotation: 0, layout: { padding: 0 } },
    plugins: [circosDecor]
});
</script>
</body>
</html>
